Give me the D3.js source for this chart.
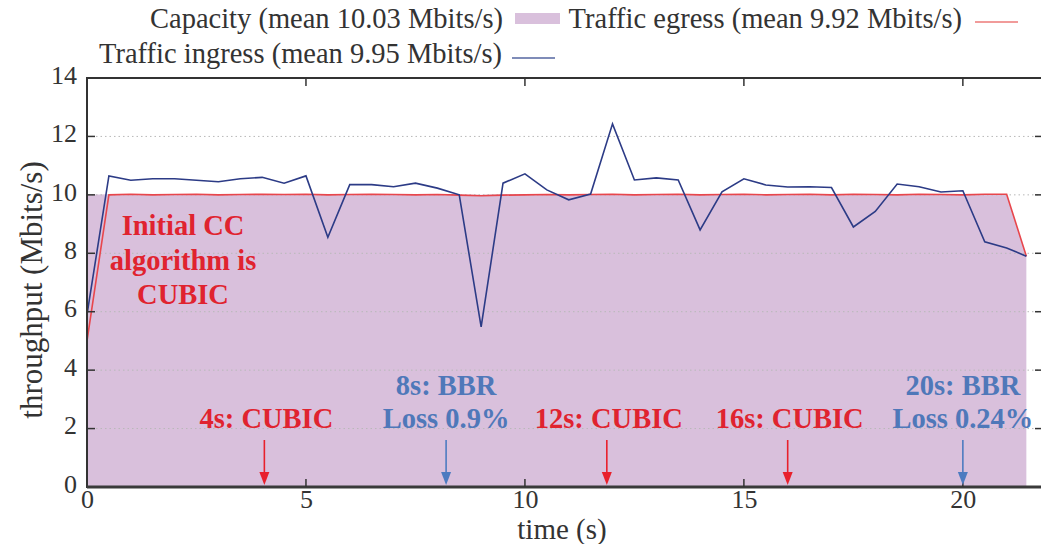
<!DOCTYPE html>
<html>
<head>
<meta charset="utf-8">
<script src="https://cdn.jsdelivr.net/npm/d3@7"></script>
<style>
  body { margin: 0; background: #fff; }
  svg { display: block; font-family: "Liberation Serif", "Times New Roman", serif; }
</style>
</head>
<body>
<svg id="chart" width="1041" height="544"></svg>
<script>
// ===============================
// DATA
// ===============================

const times = [0, 0.5, 1, 1.5, 2, 2.5, 3, 3.5, 4, 4.5, 5, 5.5, 6, 6.5, 7, 7.5, 8, 8.5, 9, 9.5,
    10, 10.5, 11, 11.5, 12, 12.5, 13, 13.5, 14, 14.5, 15, 15.5, 16, 16.5, 17, 17.5, 18, 18.5,
    19, 19.5, 20, 20.5, 21, 21.45];

const capacity = [10.0, 10.02, 10.02, 10.01, 10.02, 10.01, 10.02, 10.02, 10.02, 10.01, 10.02, 10.02,
    10.01, 10.02, 10.02, 10.01, 10.02, 10.01, 10.0, 10.02, 10.02, 10.01, 10.02, 10.02, 10.02,
    10.01, 10.02, 10.02, 10.01, 10.02, 10.02, 10.01, 10.02, 10.02, 10.01, 10.02, 10.02, 10.01,
    10.02, 10.02, 10.02, 10.02, 10.02, 7.9];

const egress = [5.0, 10.0, 10.02, 10.0, 10.01, 10.02, 10.0, 10.01, 10.02, 10.01, 10.02, 10.0,
    10.01, 10.02, 10.01, 10.0, 10.01, 9.99, 9.97, 9.99, 10.0, 10.01, 10.0, 10.01, 10.02,
    10.0, 10.01, 10.02, 10.0, 10.01, 10.02, 10.0, 10.01, 10.02, 10.0, 10.02, 10.01, 10.0,
    10.02, 10.01, 10.0, 10.02, 10.02, 7.9];

const ingress = [5.9, 10.65, 10.5, 10.55, 10.55, 10.5, 10.45, 10.55, 10.6, 10.4, 10.65, 8.55,
    10.35, 10.35, 10.28, 10.4, 10.23, 10.0, 5.48, 10.4, 10.72, 10.17, 9.83, 10.03, 12.43,
    10.51, 10.58, 10.51, 8.8, 10.1, 10.55, 10.34, 10.27, 10.28, 10.25, 8.9, 9.43, 10.37,
    10.28, 10.1, 10.14, 8.39, 8.18, 7.9];

const xTicks = [0, 5, 10, 15, 20];
const yTicks = [0, 2, 4, 6, 8, 10, 12, 14];

const legendLabels = [
    "Capacity (mean 10.03 Mbits/s)",
    "Traffic egress (mean 9.92 Mbits/s)",
    "Traffic ingress (mean 9.95 Mbits/s)"
];

// annotations: arrow time, text lines, kind
const noteTimes = [4.05, 8.2, 11.87, 16, 20];
const noteLines = [
    ["4s: CUBIC"],
    ["8s: BBR", "Loss 0.9%"],
    ["12s: CUBIC"],
    ["16s: CUBIC"],
    ["20s: BBR", "Loss 0.24%"]
];
const noteKinds = ["cubic", "bbr", "cubic", "cubic", "bbr"];

const initialNote = ["Initial CC", "algorithm is", "CUBIC"];

// ===============================
// COLOURS
// ===============================

const fillColor = "#d9c0dc";
const redColor = "#e8464c";
const blueColor = "#2c3b86";
const cubicText = "#e0232f";
const bbrText = "#4f78b9";

// ===============================
// SCALES
// ===============================

const svg = d3.select("#chart");

const mLeft = 87, mRight = 1043, mTop = 78, mBottom = 487;

const x = d3.scaleLinear().domain([0, 21.83]).range([mLeft, mRight]);
const y = d3.scaleLinear().domain([0, 14]).range([mBottom, mTop]);

const rows = times.map((t, i) => ({t: t, cap: capacity[i], eg: egress[i], ing: ingress[i]}));

// -------- CAPACITY FILL --------

svg.append("path")
    .datum(rows)
    .attr("fill", fillColor)
    .attr("d", d3.area().x(d => x(d.t)).y0(y(0)).y1(d => y(d.cap)));

// -------- GRID --------

svg.append("g")
    .selectAll("line")
    .data(yTicks.filter(v => v > 0 && v < 14))
    .enter()
    .append("line")
    .attr("x1", mLeft)
    .attr("x2", mRight)
    .attr("y1", d => y(d))
    .attr("y2", d => y(d))
    .attr("stroke", "#b8b8b8")
    .attr("stroke-width", 1)
    .attr("stroke-dasharray", "1.5,3");

// -------- LINES --------

svg.append("path")
    .datum(rows)
    .attr("fill", "none")
    .attr("stroke", redColor)
    .attr("stroke-width", 1.6)
    .attr("d", d3.line().x(d => x(d.t)).y(d => y(d.eg)));

svg.append("path")
    .datum(rows)
    .attr("fill", "none")
    .attr("stroke", blueColor)
    .attr("stroke-width", 1.6)
    .attr("d", d3.line().x(d => x(d.t)).y(d => y(d.ing)));

// -------- FRAME & AXES --------

svg.append("rect")
    .attr("x", mLeft).attr("y", mTop)
    .attr("width", mRight - mLeft).attr("height", mBottom - mTop)
    .attr("fill", "none")
    .attr("stroke", "#333")
    .attr("stroke-width", 2);

svg.append("line")
    .attr("x1", mLeft).attr("x2", mRight)
    .attr("y1", mBottom).attr("y2", mBottom)
    .attr("stroke", "#3a3a3a")
    .attr("stroke-width", 3);

const axisFont = "26px";

const xAxis = d3.axisBottom(x).tickValues(xTicks).tickSize(0).tickPadding(3);
const gx = svg.append("g").attr("transform", `translate(0,${mBottom})`).call(xAxis);
gx.select(".domain").remove();
gx.selectAll("text").attr("font-size", axisFont).attr("font-family", "Liberation Serif").attr("fill", "#333");

const yAxis = d3.axisLeft(y).tickValues(yTicks).tickSize(0).tickPadding(10);
const gy = svg.append("g").attr("transform", `translate(${mLeft},0)`).call(yAxis);
gy.select(".domain").remove();
gy.selectAll("text").attr("font-size", axisFont).attr("font-family", "Liberation Serif").attr("fill", "#333").attr("dy", "0.2em");

// inward ticks on all four sides
const tickLen = 8;
const ticks = svg.append("g").attr("stroke", "#333").attr("stroke-width", 1.5);
xTicks.filter(v => v > 0).forEach(v => {
    ticks.append("line").attr("x1", x(v)).attr("x2", x(v)).attr("y1", mBottom).attr("y2", mBottom - tickLen);
    ticks.append("line").attr("x1", x(v)).attr("x2", x(v)).attr("y1", mTop).attr("y2", mTop + tickLen);
});
yTicks.filter(v => v > 0 && v < 14).forEach(v => {
    ticks.append("line").attr("x1", mLeft).attr("x2", mLeft + tickLen).attr("y1", y(v)).attr("y2", y(v));
    ticks.append("line").attr("x1", mRight).attr("x2", mRight - tickLen).attr("y1", y(v)).attr("y2", y(v));
});

// axis titles
svg.append("text")
    .attr("x", 562).attr("y", 539)
    .attr("text-anchor", "middle")
    .attr("font-size", "29px")
    .attr("fill", "#333")
    .text("time (s)");

svg.append("text")
    .attr("transform", "translate(42,290) rotate(-90)")
    .attr("text-anchor", "middle")
    .attr("font-size", "31px")
    .attr("fill", "#333")
    .text("throughput (Mbits/s)");

// ===============================
// LEGEND
// ===============================

const legend = svg.append("g").attr("font-size", "28.5px").attr("fill", "#333");

legend.append("text").attr("x", 503).attr("y", 28).attr("text-anchor", "end").text(legendLabels[0]);
legend.append("rect").attr("x", 515).attr("y", 13).attr("width", 45).attr("height", 11).attr("fill", fillColor);

legend.append("text").attr("x", 962).attr("y", 28).attr("text-anchor", "end").text(legendLabels[1]);
legend.append("line").attr("x1", 975).attr("x2", 1018).attr("y1", 22).attr("y2", 22)
    .attr("stroke", "#ec7a78").attr("stroke-width", 1.5);

legend.append("text").attr("x", 502).attr("y", 63).attr("text-anchor", "end").text(legendLabels[2]);
legend.append("line").attr("x1", 512).attr("x2", 555).attr("y1", 58).attr("y2", 58)
    .attr("stroke", "#5566a0").attr("stroke-width", 1.5);

// ===============================
// ANNOTATIONS
// ===============================

const notes = svg.append("g")
    .attr("font-size", "28.5px")
    .attr("font-weight", "bold")
    .attr("text-anchor", "middle");

const initText = notes.append("text")
    .attr("fill", cubicText);
initialNote.forEach((s, i) => {
    initText.append("tspan").attr("x", 183).attr("y", 235 + i * 34.5).text(s);
});

noteTimes.forEach((t, i) => {
    const kind = noteKinds[i];
    const tc = kind === "cubic" ? cubicText : bbrText;
    const ac = kind === "cubic" ? "#e8202c" : "#4d7bc0";
    const lines = noteLines[i];
    const cx = x(t);
    const textX = kind === "cubic" ? cx + 2 : cx;
    const baseY = 428 - (lines.length - 1) * 33;

    const txt = notes.append("text").attr("fill", tc);
    lines.forEach((s, j) => {
        txt.append("tspan").attr("x", textX).attr("y", baseY + j * 33).text(s);
    });

    svg.append("line")
        .attr("x1", cx).attr("x2", cx)
        .attr("y1", 440).attr("y2", 474)
        .attr("stroke", ac)
        .attr("stroke-width", 1.6);

    svg.append("path")
        .attr("d", `M${cx - 5},${472} L${cx + 5},${472} L${cx},${485} Z`)
        .attr("fill", ac);
});
</script>
</body>
</html>
